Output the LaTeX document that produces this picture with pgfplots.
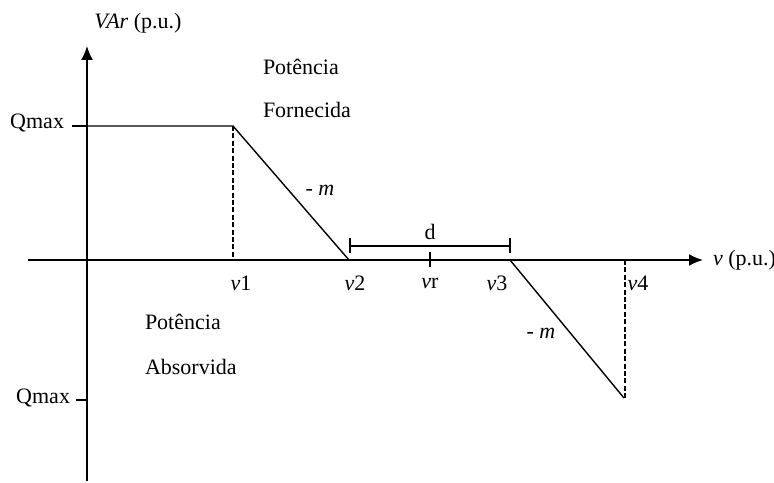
\documentclass[border=0pt]{standalone}
\usepackage{fontspec}
\setmainfont{Liberation Serif}
\usepackage{pgfplots}
\pgfplotsset{compat=1.18}
\usetikzlibrary{arrows.meta}
\tikzset{lbl/.style={inner sep=0pt, outer sep=0pt, font=\fontsize{11}{13}\selectfont}}
\begin{document}
\begin{tikzpicture}
\begin{axis}[
  at={(0,0)}, anchor=south west,
  width=387pt, height=241pt, scale only axis,
  xmin=0, xmax=774, ymin=0, ymax=482,
  hide axis, clip=false,
]
% axes
\addplot[black, line width=0.9pt, -{Latex[length=7pt,width=6pt]}] coordinates {(87,1) (87,436)};
\addplot[black, line width=0.9pt, -{Latex[length=7pt,width=6pt]}] coordinates {(28,222) (703,222)};
% curve
\addplot[black, line width=0.7pt] coordinates {(87,356) (233,356) (349,222)};
\addplot[black, line width=0.7pt] coordinates {(510,222) (624,84)};
% dashed
\addplot[black, line width=0.6pt, dash pattern=on 2.5pt off 1.2pt] coordinates {(233,356) (233,222)};
\addplot[black, line width=0.6pt, dash pattern=on 2.5pt off 1.2pt] coordinates {(625,222) (625,84)};
% Qmax ticks
\addplot[black, line width=0.7pt] coordinates {(72,356) (87,356)};
\addplot[black, line width=0.7pt] coordinates {(76,82) (87,82)};
% vr tick
\addplot[black, line width=0.7pt] coordinates {(430,230) (430,215)};
% d bracket
\addplot[black, line width=0.7pt] coordinates {(350,236) (510,236)};
\addplot[black, line width=0.7pt] coordinates {(350,244) (350,229)};
\addplot[black, line width=0.7pt] coordinates {(510,244) (510,229)};
% labels
\node[lbl] at (axis cs:138,459) {\textit{VAr} (p.u.)};
\node[lbl, anchor=west] at (axis cs:263,415) {Potência};
\node[lbl, anchor=west] at (axis cs:263,372) {Fornecida};
\node[lbl, anchor=east] at (axis cs:64,359) {Qmax};
\node[lbl, anchor=east] at (axis cs:70,84) {Qmax};
\node[lbl] at (axis cs:320,292) {- \textit{m}};
\node[lbl] at (axis cs:541,149) {- \textit{m}};
\node[lbl] at (axis cs:430,250) {d};
\node[lbl] at (axis cs:241,199) {\textit{v}1};
\node[lbl] at (axis cs:355,199) {\textit{v}2};
\node[lbl] at (axis cs:430,199) {\textit{v}r};
\node[lbl] at (axis cs:497,199) {\textit{v}3};
\node[lbl] at (axis cs:638,199) {\textit{v}4};
\node[lbl, anchor=west] at (axis cs:713,222) {\textit{v} (p.u.)};
\node[lbl, anchor=west] at (axis cs:145,160) {Potência};
\node[lbl, anchor=west] at (axis cs:145,115) {Absorvida};
\end{axis}
\pgfresetboundingbox
\path[use as bounding box] (0,0) rectangle (387pt,241pt);
\end{tikzpicture}
\end{document}
